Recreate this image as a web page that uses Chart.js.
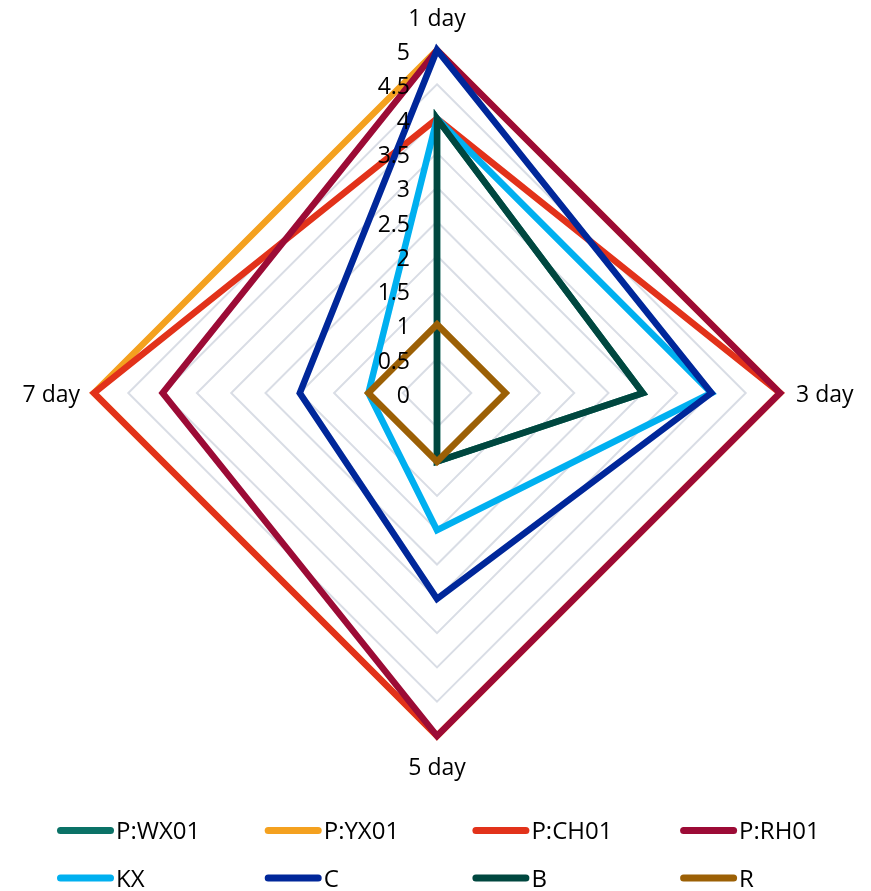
<!DOCTYPE html>
<html>
<head>
<meta charset="utf-8">
<script src="https://cdn.jsdelivr.net/npm/chart.js@4/dist/chart.umd.min.js"></script>
<style>
  html, body { margin: 0; padding: 0; background: #ffffff; }
  #wrap { width: 871px; height: 891px; position: relative; }
</style>
</head>
<body>
<div id="wrap"><canvas id="chart" width="871" height="891"></canvas></div>
<script>
// Axes (days) and radial tick labels
const days = ['1 day', '3 day', '5 day', '7 day'];
const tickLabels = ['0', '0.5', '1', '1.5', '2', '2.5', '3', '3.5', '4', '4.5', '5'];

// Series scores per day
const seriesNames = ['P:WX01', 'P:YX01', 'P:CH01', 'P:RH01', 'KX', 'C', 'B', 'R'];
const seriesColors = ['#0b7267', '#f4a11f', '#e2321a', '#9c0b36', '#00b0f0', '#00279a', '#00473f', '#9c6005'];
const wx01 = [4, 3, 1, 0];
const yx01 = [5, 5, 5, 5];
const ch01 = [4, 5, 5, 5];
const rh01 = [5, 5, 5, 4];
const kx   = [4, 4, 2, 1];
const cSer = [5, 4, 3, 2];
const bSer = [4, 3, 1, 0];
const rSer = [1, 1, 1, 1];
const seriesValues = [wx01, yx01, ch01, rh01, kx, cSer, bSer, rSer];

const FONT = '"Open Sans", "Noto Sans", sans-serif';

// Tick numbers, day labels and the legend drawn from the radial scale geometry
const textPlugin = {
  id: 'radarText',
  afterDatasetsDraw(chart) {
    const s = chart.scales.r;
    const ctx = chart.ctx;
    ctx.save();
    ctx.fillStyle = '#000000';

    // tick numbers, right-aligned just left of the vertical axis
    ctx.font = '23px ' + FONT;
    ctx.textAlign = 'right';
    ctx.textBaseline = 'alphabetic';
    tickLabels.forEach(t => {
      const d = s.getDistanceFromCenterForValue(Number(t));
      ctx.fillText(t, s.xCenter - 27, s.yCenter - d + 10);
    });

    // day labels around the outside
    ctx.font = '23px ' + FONT;
    days.forEach((label, i) => {
      const p = s.getPointPosition(i, s.drawingArea);
      if (Math.abs(p.x - s.xCenter) < 1) {
        ctx.textAlign = 'center';
        if (p.y < s.yCenter) ctx.fillText(label, p.x, p.y - 24);
        else ctx.fillText(label, p.x, p.y + 39);
      } else if (p.x > s.xCenter) {
        ctx.textAlign = 'left';
        ctx.fillText(label, p.x + 16, p.y + 9);
      } else {
        ctx.textAlign = 'right';
        ctx.fillText(label, p.x - 14, p.y + 9);
      }
    });
    ctx.restore();
  },
  afterDraw(chart) {
    const ctx = chart.ctx;
    ctx.save();
    ctx.font = '24px ' + FONT;
    ctx.textAlign = 'left';
    ctx.textBaseline = 'alphabetic';
    chart.data.datasets.forEach((ds, i) => {
      const col = i % 4, row = Math.floor(i / 4);
      const x0 = 57 + col * 207.7;
      const y = 830.5 + row * 47.5;
      ctx.strokeStyle = ds.borderColor;
      ctx.lineWidth = 7;
      ctx.lineCap = 'round';
      ctx.beginPath();
      ctx.moveTo(x0 + 3.5, y);
      ctx.lineTo(x0 + 53.5, y);
      ctx.stroke();
      ctx.fillStyle = '#000000';
      ctx.fillText(ds.label, x0 + 59, y + 8.5);
    });
    ctx.restore();
  }
};

const datasets = seriesNames.map((name, i) => ({
  label: name,
  data: seriesValues[i],
  borderColor: seriesColors[i],
  backgroundColor: seriesColors[i],
  borderWidth: 6.5,
  borderJoinStyle: 'miter',
  fill: false,
  pointRadius: 0,
  pointHoverRadius: 0,
  tension: 0,
  clip: false,
  order: seriesNames.length - i
}));

new Chart(document.getElementById('chart'), {
  type: 'radar',
  data: { labels: days, datasets },
  options: {
    responsive: false,
    animation: false,
    layout: { padding: { left: 94, top: 50, right: 91, bottom: 155 } },
    plugins: { legend: { display: false }, tooltip: { enabled: false } },
    scales: {
      r: {
        min: 0,
        max: 5,
        startAngle: 0,
        ticks: { stepSize: 0.5, display: false },
        grid: { color: '#d9dde5', lineWidth: 2, circular: false },
        angleLines: { display: false },
        pointLabels: { display: false }
      }
    }
  },
  plugins: [textPlugin]
});
</script>
</body>
</html>
